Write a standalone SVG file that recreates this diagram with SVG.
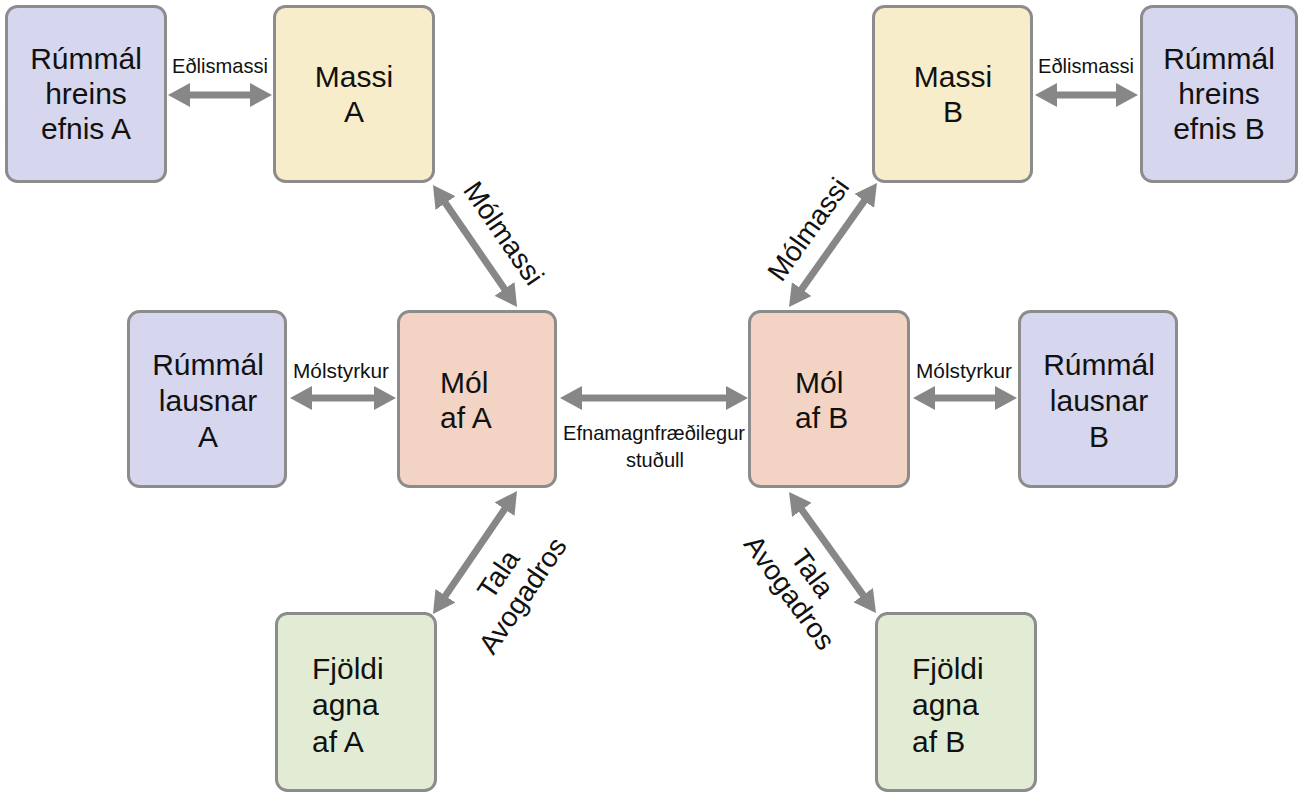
<svg xmlns="http://www.w3.org/2000/svg" width="1300" height="796" viewBox="0 0 1300 796">
<style>
.box{stroke:#8c8c8c;stroke-width:3}
.blue{fill:#d6d7ee}.yel{fill:#f7edcb}.sal{fill:#f3d4c4}.grn{fill:#e2ecd4}
.t{font-family:"Liberation Sans",Arial,sans-serif;font-size:30px;fill:#111}
.c{text-anchor:middle}
.lbl{font-family:"Liberation Sans",Arial,sans-serif;font-size:21px;fill:#111;text-anchor:middle}
.dl{font-family:"Liberation Sans",Arial,sans-serif;font-size:28px;fill:#111;text-anchor:middle}
.arr{stroke:#878787;stroke-width:7;fill:none;marker-start:url(#ah);marker-end:url(#ah)}
</style>
<defs>
<marker id="ah" viewBox="0 0 22 24" refX="8" refY="12" markerWidth="22" markerHeight="24" markerUnits="userSpaceOnUse" orient="auto-start-reverse">
<path d="M0,0 L22,12 L0,24 Z" fill="#878787"/>
</marker>
</defs>
<rect width="1300" height="796" fill="#ffffff"/>
<g id="connectors">
<line class="arr" x1="182" y1="95" x2="258" y2="95"/>
<line class="arr" x1="1049" y1="95" x2="1124" y2="95"/>
<line class="arr" x1="304" y1="398" x2="382" y2="398"/>
<line class="arr" x1="927" y1="398" x2="1003" y2="398"/>
<line class="arr" x1="574" y1="398" x2="734" y2="398"/>
<line class="arr" x1="440.9" y1="196.5" x2="509.1" y2="295.5"/>
<line class="arr" x1="868.9" y1="194.4" x2="797.1" y2="295.6"/>
<line class="arr" x1="509.1" y1="502.6" x2="440.9" y2="602.4"/>
<line class="arr" x1="797.2" y1="503.4" x2="867.8" y2="601.6"/>
<text class="lbl" x="220" y="73" textLength="96" lengthAdjust="spacingAndGlyphs">Eðlismassi</text>
<text class="lbl" x="1086" y="73" textLength="96" lengthAdjust="spacingAndGlyphs">Eðlismassi</text>
<text class="lbl" x="341" y="378" textLength="96" lengthAdjust="spacingAndGlyphs">Mólstyrkur</text>
<text class="lbl" x="964" y="378" textLength="96" lengthAdjust="spacingAndGlyphs">Mólstyrkur</text>
<text class="lbl" x="654" y="440" textLength="182" lengthAdjust="spacingAndGlyphs">Efnamagnfræðilegur</text>
<text class="lbl" x="655" y="467" textLength="58" lengthAdjust="spacingAndGlyphs">stuðull</text>
<text class="dl" transform="translate(504,233) rotate(55.5)" y="10">Mólmassi</text>
<text class="dl" transform="translate(808,229) rotate(-54.5)" y="10">Mólmassi</text>
<g transform="translate(498,574) rotate(-56)">
<text class="dl" x="0" y="10">Tala</text>
<text class="dl" x="-4" y="42">Avogadros</text>
</g>
<g transform="translate(813,573) rotate(54)">
<text class="dl" x="0" y="10">Tala</text>
<text class="dl" x="2" y="40">Avogadros</text>
</g>
</g>
<g id="rummal-hreins-A">
<rect class="box blue" x="6.5" y="6.5" width="159" height="175" rx="11"/>
<text class="t c" x="86" y="69">Rúmmál</text>
<text class="t c" x="86" y="104">hreins</text>
<text class="t c" x="86" y="139">efnis A</text>
</g>
<g id="massi-A">
<rect class="box yel" x="274.5" y="6.5" width="159" height="175" rx="11"/>
<text class="t c" x="354" y="87">Massi</text>
<text class="t c" x="354" y="122">A</text>
</g>
<g id="massi-B">
<rect class="box yel" x="873.5" y="6.5" width="158" height="175" rx="11"/>
<text class="t c" x="953" y="87">Massi</text>
<text class="t c" x="953" y="122">B</text>
</g>
<g id="rummal-hreins-B">
<rect class="box blue" x="1141.5" y="6.5" width="155" height="175" rx="11"/>
<text class="t c" x="1219" y="69">Rúmmál</text>
<text class="t c" x="1219" y="104">hreins</text>
<text class="t c" x="1219" y="139">efnis B</text>
</g>
<g id="rummal-lausnar-A">
<rect class="box blue" x="128.5" y="311.5" width="157" height="175" rx="11"/>
<text class="t c" x="208" y="375">Rúmmál</text>
<text class="t c" x="208" y="411">lausnar</text>
<text class="t c" x="208" y="447">A</text>
</g>
<g id="mol-A">
<rect class="box sal" x="398.5" y="311.5" width="157" height="175" rx="11"/>
<text class="t" x="440" y="393">Mól</text>
<text class="t" x="440" y="428">af A</text>
</g>
<g id="mol-B">
<rect class="box sal" x="749.5" y="311.5" width="159" height="175" rx="11"/>
<text class="t" x="795" y="393">Mól</text>
<text class="t" x="795" y="428">af B</text>
</g>
<g id="rummal-lausnar-B">
<rect class="box blue" x="1019.5" y="311.5" width="157" height="175" rx="11"/>
<text class="t c" x="1099" y="375">Rúmmál</text>
<text class="t c" x="1099" y="411">lausnar</text>
<text class="t c" x="1099" y="447">B</text>
</g>
<g id="fjoldi-A">
<rect class="box grn" x="276.5" y="613.5" width="159" height="177" rx="11"/>
<text class="t" x="312" y="679">Fjöldi</text>
<text class="t" x="312" y="715">agna</text>
<text class="t" x="312" y="752">af A</text>
</g>
<g id="fjoldi-B">
<rect class="box grn" x="876.5" y="613.5" width="159" height="177" rx="11"/>
<text class="t" x="912" y="679">Fjöldi</text>
<text class="t" x="912" y="715">agna</text>
<text class="t" x="912" y="752">af B</text>
</g>
</svg>
